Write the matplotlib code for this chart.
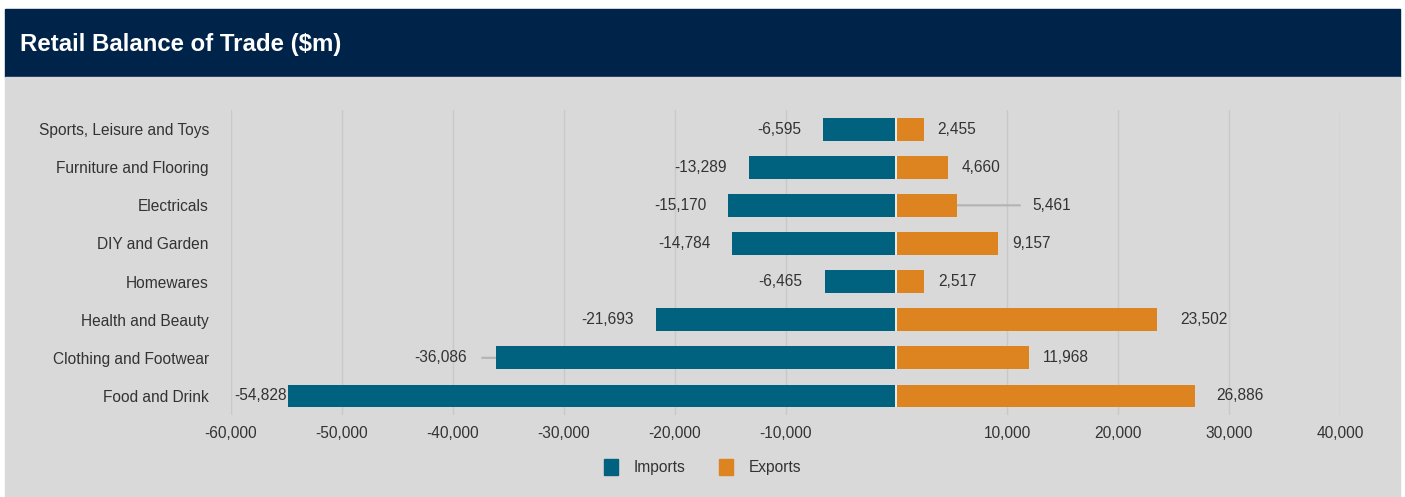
import numpy as np
import matplotlib.pyplot as plt
from matplotlib.patches import Rectangle, Patch
from matplotlib.ticker import FuncFormatter
import matplotlib.transforms as mtransforms

plt.rcParams['font.family'] = ['Liberation Sans', 'DejaVu Sans']

# Retail trade by category ($m), top row first
categories = ['Sports, Leisure and Toys', 'Furniture and Flooring', 'Electricals',
              'DIY and Garden', 'Homewares', 'Health and Beauty',
              'Clothing and Footwear', 'Food and Drink']
imports = [-6595, -13289, -15170, -14784, -6465, -21693, -36086, -54828]
exports = [2455, 4660, 5461, 9157, 2517, 23502, 11968, 26886]

NAVY = '#00234a'
PANEL = '#d9d9d9'
IMP_COL = '#00627f'
EXP_COL = '#dd8421'
TXT = '#333333'
FS = 11.2
BAR_H = 0.6

fig = plt.figure(figsize=(14.05, 4.97), dpi=100, facecolor='white')
W, H = 1405, 497
# header band and grey panel, kept behind the axes
fig.patches.append(Rectangle((5 / W, (H - 77) / H), 1395 / W, 68 / H,
                             transform=fig.transFigure, color=NAVY, zorder=-10))
fig.patches.append(Rectangle((5 / W, 0), 1395 / W, (H - 77) / H,
                             transform=fig.transFigure, color=PANEL, zorder=-10))
fig.text(20 / W, 1 - 45 / H, 'Retail Balance of Trade ($m)', color='white',
         fontsize=17.3, fontweight='bold', va='center', ha='left')

ax = fig.add_axes([231 / W, 82 / H, 1109 / W, 305 / H])
ax.set_facecolor('none')
y = np.arange(len(categories))

ax.barh(y, imports, height=BAR_H, color=IMP_COL, zorder=2)
ax.barh(y, exports, height=BAR_H, color=EXP_COL, zorder=2)
# thin light seam where the two bars meet
ax.vlines(np.zeros(len(y)), y - BAR_H / 2, y + BAR_H / 2, color='#e8eef0', lw=1.4, zorder=3)

ax.set_xlim(-60000, 40000)
ax.set_ylim(len(categories) - 0.5, -0.5)
xt = np.arange(-60000, 40001, 10000)
ax.set_xticks(xt)
ax.xaxis.set_major_formatter(FuncFormatter(lambda v, p: '' if v == 0 else f'{v:,.0f}'))
ax.set_yticks(y)
ax.set_yticklabels(categories)
ax.tick_params(axis='both', length=0, labelsize=FS, labelcolor=TXT)
ax.tick_params(axis='y', pad=16)
ax.tick_params(axis='x', pad=8)
ax.grid(axis='x', color='#c9c9c9', lw=1, zorder=1)
ax.get_xgridlines()[list(xt).index(0)].set_visible(False)
ax.set_axisbelow(True)
for s in ax.spines.values():
    s.set_visible(False)

# value labels; a few are pushed out with a short leader line
imp_gap = {'Food and Drink': 1, 'Clothing and Footwear': 29}
exp_gap = {'Electricals': 75, 'Health and Beauty': 23, 'Food and Drink': 22}
leader_len = {'Clothing and Footwear': 14, 'Electricals': 63}


def px(dx):
    return mtransforms.ScaledTranslation(dx / 100, 0, fig.dpi_scale_trans)


for i, cat in enumerate(categories):
    g = imp_gap.get(cat, 22)
    ax.text(imports[i], i, f'{imports[i]:,}', ha='right', va='center',
            fontsize=FS, color=TXT, transform=ax.transData + px(-g))
    g = exp_gap.get(cat, 14)
    ax.text(exports[i], i, f'{exports[i]:,}', ha='left', va='center',
            fontsize=FS, color=TXT, transform=ax.transData + px(g))
    if cat in leader_len:
        if cat in imp_gap:
            x0, d = imports[i], -leader_len[cat]
        else:
            x0, d = exports[i], leader_len[cat]
        ax.annotate('', xy=(x0, i), xytext=(d * 0.72, 0), textcoords='offset points',
                    arrowprops=dict(arrowstyle='-', color='#b3b3b3', lw=1.5,
                                    shrinkA=0, shrinkB=0), zorder=1)

handles = [Patch(color=IMP_COL, label='Imports'), Patch(color=EXP_COL, label='Exports')]
fig.legend(handles=handles, loc='center', bbox_to_anchor=(0.5, 30 / H), ncol=2,
           frameon=False, fontsize=FS, handlelength=0.9, handleheight=1.2,
           columnspacing=2.2, handletextpad=1.0, labelcolor=TXT)

fig.savefig('out.png', dpi=100, facecolor='white')
